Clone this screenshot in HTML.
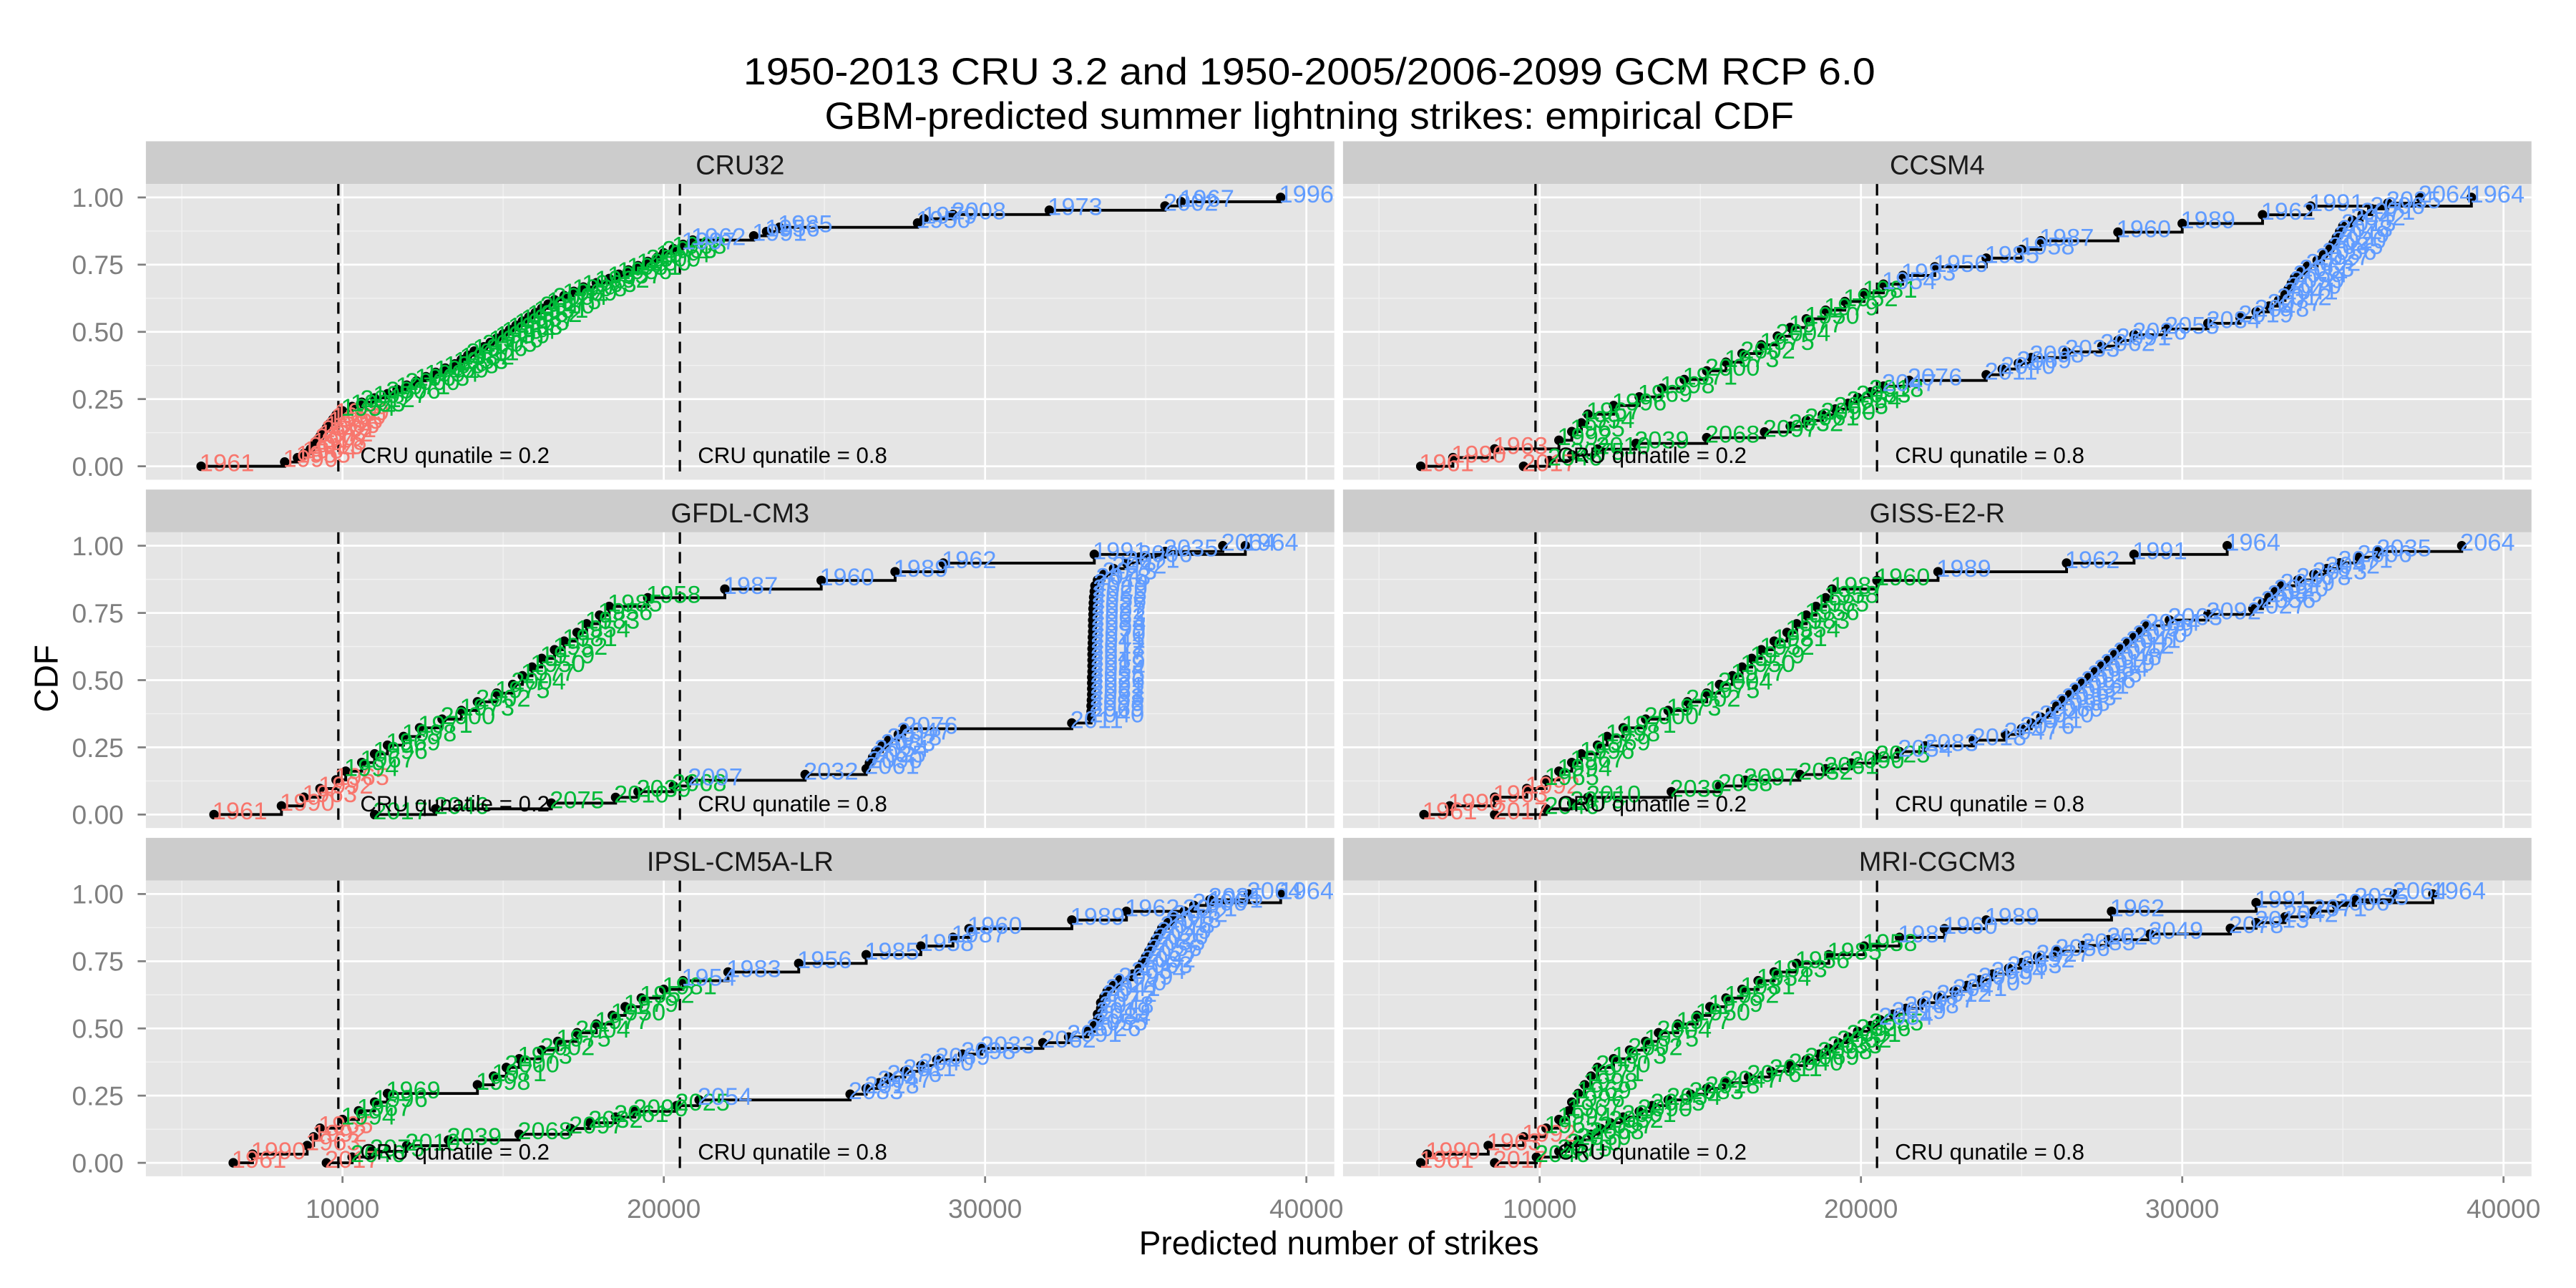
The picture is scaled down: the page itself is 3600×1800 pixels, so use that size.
<!DOCTYPE html>
<html><head><meta charset="utf-8"><style>
html,body{margin:0;padding:0;background:#fff;}
svg{display:block;font-family:"Liberation Sans",Arial,sans-serif;}
</style></head><body>
<svg id="chart" xmlns="http://www.w3.org/2000/svg" width="3600" height="1800" viewBox="0 0 1568 784">
<rect x="0" y="0" width="1568" height="784" fill="#ffffff"/>
<text x="797" y="51.5" text-anchor="middle" font-size="23" textLength="689" lengthAdjust="spacingAndGlyphs">1950-2013 CRU 3.2 and 1950-2005/2006-2099 GCM RCP 6.0</text>
<text x="797" y="78.4" text-anchor="middle" font-size="23" textLength="590" lengthAdjust="spacingAndGlyphs">GBM-predicted summer lightning strikes: empirical CDF</text>
<text x="815" y="763.6" text-anchor="middle" font-size="20">Predicted number of strikes</text>
<text x="0" y="0" transform="translate(35,413) rotate(-90)" text-anchor="middle" font-size="20">CDF</text>
<g id="panels"></g>
</svg>
<script>
// ---- data (values in thousands of strikes, sorted) ----
const panelNames = ["CRU32","CCSM4","GFDL-CM3","GISS-E2-R","IPSL-CM5A-LR","MRI-CGCM3"];
const q20 = 9.87, q80 = 20.5;
const xTicks = [10,20,30,40];
const xTickLabels = ["10000","20000","30000","40000"];
const xMinor = [5,15,25,35];
const yTicks = [0,0.25,0.5,0.75,1];
const yTickLabels = ["0.00","0.25","0.50","0.75","1.00"];
const yMinor = [0.125,0.375,0.625,0.875];

const cru32 = [5.6,8.2,8.6,8.8,9.0,9.1,9.2,9.3,9.4,9.5,9.6,9.7,9.8,10.0,10.3,10.6,11.0,11.4,11.7,12.0,12.3,12.6,12.9,13.2,13.5,13.7,13.9,14.1,14.4,14.6,14.8,15.0,15.2,15.4,15.6,15.8,16.0,16.2,16.4,16.6,16.9,17.2,17.5,17.9,18.3,18.6,18.9,19.2,19.5,19.8,20.0,20.3,20.6,20.9,22.8,23.2,23.6,27.9,28.1,29.0,32.0,35.6,36.1,39.2];

const ccsmHist = [6.3,7.3,8.6,10.6,11.0,11.3,11.5,12.3,13.1,13.8,14.5,15.2,15.8,16.3,16.9,17.4,17.8,18.3,18.9,19.5,20.1,20.7,21.3,22.3,23.9,25.0,25.6,28.0,30.0,32.5,34.0,39.0];
const ccsmFut = [9.5,10.3,11.0,11.8,13.0,15.2,17.0,17.8,18.3,18.8,19.2,19.6,19.9,20.3,20.7,21.5,23.9,24.4,24.9,25.3,26.4,27.5,28.0,28.5,29.5,30.8,31.8,32.3,32.7,33.0,33.2,33.3,33.4,33.5,33.7,33.9,34.2,34.4,34.6,34.7,34.8,34.9,35.0,35.3,35.6,35.9,36.4,37.4];

const gfdlHist = [6.0,8.1,8.8,9.3,9.8,10.1,10.6,11.0,11.4,11.9,12.4,13.1,13.7,14.2,14.8,15.3,15.6,15.9,16.2,16.6,16.9,17.3,17.6,18.0,18.3,19.5,21.9,24.9,27.2,28.7,33.4,38.1];
const gfdlFut = [11.0,12.9,16.5,18.5,19.2,20.3,20.8,24.4,26.3,26.4,26.5,26.6,26.8,27.0,27.3,27.5,32.7,33.30,33.30,33.30,33.31,33.32,33.32,33.32,33.32,33.33,33.33,33.33,33.33,33.33,33.34,33.34,33.35,33.35,33.35,33.36,33.36,33.37,33.38,33.40,33.42,33.5,33.7,34.0,34.4,34.8,35.6,37.4];

const gissHist = [6.4,7.2,8.6,9.6,10.2,10.6,11.0,11.3,11.8,12.1,12.6,13.3,14.0,14.6,15.2,15.6,16.0,16.3,16.6,16.9,17.3,17.7,18.0,18.3,18.6,18.9,19.1,20.5,22.4,26.4,28.5,31.4];
const gissFut = [8.6,10.2,11.0,11.5,14.1,15.6,16.4,18.1,18.9,19.7,20.5,21.2,22.0,23.5,24.5,25.0,25.3,25.6,25.9,26.1,26.3,26.5,26.7,26.9,27.1,27.3,27.5,27.7,27.9,28.1,28.3,28.5,28.7,28.9,29.6,30.8,32.2,32.5,32.7,32.9,33.1,33.6,34.1,34.5,34.9,35.5,36.1,38.7];

const ipslHist = [6.6,7.2,8.9,9.1,9.3,10.0,10.5,11.0,11.4,14.2,14.7,15.1,15.5,16.2,16.7,17.3,17.9,18.4,18.8,19.3,20.0,20.6,22.0,24.2,26.3,28.0,29.0,29.5,32.7,34.4,37.0,39.2];
const ipslFut = [9.5,10.3,10.9,12.0,13.3,15.5,17.1,17.7,18.5,19.1,20.4,21.1,25.8,26.3,26.7,27.0,27.5,28.0,28.5,29.3,29.9,31.8,32.6,33.2,33.4,33.5,33.5,33.6,33.6,33.7,33.8,34.0,34.2,34.6,34.8,34.9,35.0,35.1,35.2,35.3,35.4,35.5,35.7,35.9,36.2,36.5,37.0,38.2];

const mriHist = [6.3,6.5,8.4,9.5,10.2,10.6,10.9,11.0,11.2,11.4,11.6,11.8,12.3,12.8,13.3,13.7,14.3,14.9,15.3,15.8,16.3,16.8,17.3,18.0,19.0,20.1,21.2,22.6,23.9,27.8,32.3,37.8];
const mriFut = [8.6,9.9,10.6,10.9,11.2,11.6,11.9,12.2,12.6,13.1,13.5,14.0,14.7,15.2,15.8,16.5,17.2,17.8,18.3,18.7,19.0,19.3,19.6,19.9,20.3,20.6,21.0,21.4,21.9,22.4,22.9,23.3,23.7,24.1,24.6,25.0,25.5,26.1,26.9,27.7,29.0,31.5,32.3,33.2,34.1,34.8,35.4,36.6];

const panelSeries = [
  [{v:cru32, y0:1950, y1:2013}],
  [{v:ccsmHist, y0:1950, y1:2005},{v:ccsmFut, y0:2006, y1:2099}],
  [{v:gfdlHist, y0:1950, y1:2005},{v:gfdlFut, y0:2006, y1:2099}],
  [{v:gissHist, y0:1950, y1:2005},{v:gissFut, y0:2006, y1:2099}],
  [{v:ipslHist, y0:1950, y1:2005},{v:ipslFut, y0:2006, y1:2099}],
  [{v:mriHist, y0:1950, y1:2005},{v:mriFut, y0:2006, y1:2099}]
];

// ---- layout ----
const NS = "http://www.w3.org/2000/svg";
const root = document.getElementById("panels");
const xDom = [3.88, 40.87];
const colX = [88.8, 817.5], panelW = 723.4;
const rowTop = [86, 298, 510], stripH = 26, plotH = 180;
function mk(tag, attrs, parent){ const e=document.createElementNS(NS,tag); for(const k in attrs) e.setAttribute(k,attrs[k]); parent.appendChild(e); return e; }
function colorFor(v){ return v < q20 ? "#F8766D" : (v > q80 ? "#619CFF" : "#00BA38"); }

panelNames.forEach((name, pi) => {
  const col = pi % 2, row = Math.floor(pi/2);
  const x0 = colX[col], top = rowTop[row], pt = top + stripH;
  const sx = v => x0 + (v - xDom[0]) / (xDom[1]-xDom[0]) * panelW;
  const sy = c => pt + (1.05 - c) / 1.1 * plotH;
  const g = mk("g", {}, root);
  
  

  const strip = mk("rect", {x:x0, y:top, width:panelW, height:stripH, fill:"#CCCCCC"}, g);
  
  
  const st = mk("text", {x:x0+panelW/2, y:top+20, "text-anchor":"middle", "font-size":"16.5", fill:"#1a1a1a"}, g);
  st.textContent = name;
  
  

  const bg = mk("rect", {x:x0, y:pt, width:panelW, height:plotH, fill:"#E5E5E5"}, g);
  
  

  xMinor.forEach(v => { const l=mk("line",{x1:sx(v),x2:sx(v),y1:pt,y2:pt+plotH,stroke:"#F2F2F2","stroke-width":0.6},g);
      });
  yMinor.forEach(c => { const l=mk("line",{x1:x0,x2:x0+panelW,y1:sy(c),y2:sy(c),stroke:"#F2F2F2","stroke-width":0.6},g);
      });
  xTicks.forEach(v => { const l=mk("line",{x1:sx(v),x2:sx(v),y1:pt,y2:pt+plotH,stroke:"#FFFFFF","stroke-width":1.2},g);
      });
  yTicks.forEach(c => { const l=mk("line",{x1:x0,x2:x0+panelW,y1:sy(c),y2:sy(c),stroke:"#FFFFFF","stroke-width":1.2},g);
      });

  if (col === 0) {
    yTicks.forEach((c,i) => {
      const t = mk("line",{x1:x0-5,x2:x0,y1:sy(c),y2:sy(c),stroke:"#7F7F7F","stroke-width":1.2},g);
       
      const tl = mk("text",{x:x0-13.5,y:sy(c)+5.8,"text-anchor":"end","font-size":"16.2",fill:"#7F7F7F"},g);
      tl.textContent = yTickLabels[i];
       
    });
  }
  if (row === 2) {
    xTicks.forEach((v,i) => {
      const t = mk("line",{x1:sx(v),x2:sx(v),y1:pt+plotH,y2:pt+plotH+4,stroke:"#7F7F7F","stroke-width":1.2},g);
       
      const tl = mk("text",{x:sx(v),y:741.3,"text-anchor":"middle","font-size":"16.2",fill:"#7F7F7F"},g);
      tl.textContent = xTickLabels[i];
       
    });
  }

  [q20, q80].forEach(q => {
    const l = mk("line",{x1:sx(q),x2:sx(q),y1:pt,y2:pt+plotH,stroke:"#000","stroke-width":1.4,"stroke-dasharray":"7 5"},g);
     
  });

  const sg = mk("g",{},g);
   
  const lg = mk("g",{},g);
   

  panelSeries[pi].forEach((s, si) => {
    const n = s.v.length, span = s.y1 - s.y0 + 1;
    let d = "";
    s.v.forEach((v,k) => {
      const c = k/(n-1);
      if (k===0) d += "M"+sx(v)+","+sy(c);
      else d += "H"+sx(v)+"V"+sy(c);
    });
    const p = mk("path",{d:d,fill:"none",stroke:"#000","stroke-width":1.7},sg);
    
    
    s.v.forEach((v,k) => {
      const c = k/(n-1);
      const dot = mk("circle",{cx:sx(v),cy:sy(c),r:2.9,fill:"#000"},sg);
      
      
      const yr = s.y0 + ((k*29 + 11) % span);
      const t = mk("text",{x:sx(v)-1,y:sy(c)+3,"font-size":"15",fill:colorFor(v)},lg);
      t.textContent = String(yr);
      
      
    });
  });

  const a1 = mk("text",{x:sx(10.55),y:sy(0)-2,"font-size":"13.6",fill:"#000"},g);
  a1.textContent = "CRU qunatile = 0.2";
   
  const a2 = mk("text",{x:sx(21.06),y:sy(0)-2,"font-size":"13.6",fill:"#000"},g);
  a2.textContent = "CRU qunatile = 0.8";
   
});
</script>
</body></html>
